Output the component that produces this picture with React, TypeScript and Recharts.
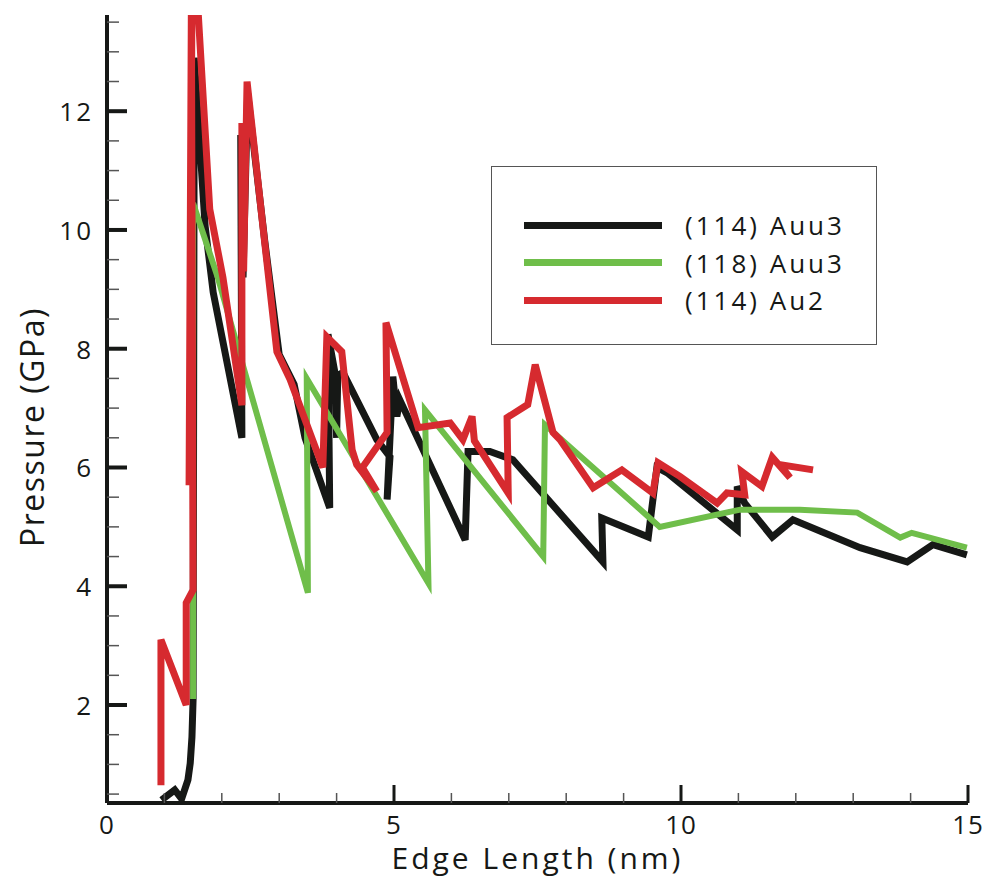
import { LineChart, Line, XAxis, YAxis, Label } from "recharts";

// (114) Auu3
const edgeAuu3_114 = [0.95, 1.18, 1.3, 1.41, 1.45, 1.48, 1.5, 1.52, 1.71, 1.85, 2.35, 2.33, 2.37, 2.45, 2.75, 3.0, 3.26, 3.45, 3.88, 3.85, 3.97, 4.0, 4.02, 4.11, 4.7, 4.93, 4.88, 4.98, 5.05, 5.1, 6.24, 6.29, 6.67, 7.07, 8.64, 8.62, 9.43, 9.58, 9.76, 10.98, 10.98, 11.11, 11.59, 11.95, 13.12, 13.94, 14.39, 14.98];
const pressureAuu3_114 = [0.4, 0.57, 0.42, 0.74, 1.02, 1.46, 2.1, 12.9, 10.06, 8.95, 6.5, 11.6, 9.2, 12.3, 9.8, 7.9, 7.4, 6.5, 5.32, 8.24, 7.6, 6.5, 7.55, 7.6, 6.47, 6.18, 5.46, 7.53, 6.86, 7.14, 4.78, 6.27, 6.27, 6.13, 4.41, 5.15, 4.83, 6.0, 5.91, 4.95, 5.68, 5.4, 4.83, 5.12, 4.65, 4.41, 4.7, 4.53];

// (118) Auu3
const edgeAuu3_118 = [1.5, 1.5, 1.93, 3.5, 3.48, 5.6, 5.54, 7.6, 7.63, 9.63, 11.03, 12.07, 13.07, 13.82, 14.02, 14.98];
const pressureAuu3_118 = [2.1, 10.45, 9.2, 3.89, 7.5, 4.05, 6.97, 4.5, 6.72, 5.0, 5.29, 5.29, 5.24, 4.82, 4.9, 4.65];

// (114) Au2
const edgeAu2_114 = [0.94, 0.94, 1.38, 1.38, 1.5, 1.47, 1.43, 1.48, 1.58, 1.79, 2.02, 2.35, 2.35, 2.38, 2.44, 2.7, 2.96, 3.19, 3.76, 3.83, 4.09, 4.27, 4.35, 4.7, 4.45, 4.88, 4.86, 5.42, 5.98, 6.2, 6.36, 6.4, 6.99, 6.97, 7.33, 7.46, 7.77, 7.89, 8.47, 8.97, 9.51, 9.6, 9.98, 10.63, 10.8, 11.11, 11.06, 11.41, 11.59, 11.9, 11.72, 12.3];
const pressureAu2_114 = [0.65, 3.1, 2.0, 3.72, 3.94, 13.8, 5.7, 13.8, 13.8, 10.35, 9.2, 7.05, 11.8, 9.3, 12.5, 10.2, 7.95, 7.48, 6.0, 8.2, 7.95, 6.3, 6.05, 5.6, 6.0, 6.59, 8.44, 6.67, 6.75, 6.47, 6.86, 6.45, 5.57, 6.84, 7.06, 7.73, 6.59, 6.47, 5.66, 5.96, 5.57, 6.08, 5.85, 5.4, 5.57, 5.54, 5.93, 5.68, 6.17, 5.83, 6.05, 5.96];

const xTicks = [0, 1, 2, 3, 4, 5, 6, 7, 8, 9, 10, 11, 12, 13, 14, 15];
const yTicks = [0.5, 1, 1.5, 2, 2.5, 3, 3.5, 4, 4.5, 5, 5.5, 6, 6.5, 7, 7.5, 8, 8.5, 9, 9.5, 10, 10.5, 11, 11.5, 12, 12.5, 13, 13.5];

const toPoints = (xs: number[], ys: number[]) => xs.map((x, i) => ({ x, y: ys[i] }));

const series = [
  { name: "(114) Auu3", color: "#161816", width: 7, data: toPoints(edgeAuu3_114, pressureAuu3_114) },
  { name: "(118) Auu3", color: "#6fbe4a", width: 6, data: toPoints(edgeAuu3_118, pressureAuu3_118) },
  { name: "(114) Au2", color: "#d62a2f", width: 7, data: toPoints(edgeAu2_114, pressureAu2_114) },
];

const FONT = "'Open Sans', sans-serif";
const INK = "#161816";

// y ticks point inward; labels only on even values
const YTick = (props: any) => {
  const { x, y, payload } = props;
  const v = payload.value;
  const major = v % 2 === 0;
  return (
    <g>
      <line x1={x} x2={x + (major ? 20 : 12)} y1={y} y2={y} stroke={major ? INK : "#555"} strokeWidth={major ? 4 : 1.5} />
      {major && (
        <text x={x - 14} y={y} textAnchor="end" dominantBaseline="central" fontFamily={FONT} fontSize={26} letterSpacing={2} fill={INK}>
          {v}
        </text>
      )}
    </g>
  );
};

const XTick = (props: any) => {
  const { x, y, payload } = props;
  const v = payload.value;
  const major = v % 5 === 0;
  return (
    <g>
      <line x1={x} x2={x} y1={y} y2={y - (major ? 18 : 10)} stroke={major ? INK : "#555"} strokeWidth={major ? 3 : 1.5} />
      {major && (
        <text x={x} y={y + 9} textAnchor="middle" dominantBaseline="hanging" fontFamily={FONT} fontSize={26} letterSpacing={1} fill={INK}>
          {v}
        </text>
      )}
    </g>
  );
};

export default function App() {
  return (
    <div style={{ position: "absolute", left: 0, top: 0, width: 987, height: 878, background: "#fff" }}>
      <LineChart width={987} height={878} margin={{ top: 15, right: 19, bottom: 15, left: 27 }}>
        <XAxis
          type="number"
          dataKey="x"
          domain={[0, 15]}
          ticks={xTicks}
          allowDataOverflow
          height={60}
          tickSize={0}
          tickMargin={0}
          tickLine={false}
          tick={<XTick />}
          axisLine={{ stroke: INK, strokeWidth: 4 }}
        >
          <Label
            content={({ viewBox }: any) => (
              <text
                x={viewBox.x + viewBox.width / 2}
                y={viewBox.y + 66}
                textAnchor="middle"
                fontFamily={FONT}
                fontSize={30}
                letterSpacing={3}
                fill={INK}
              >
                Edge Length (nm)
              </text>
            )}
          />
        </XAxis>
        <YAxis
          type="number"
          dataKey="y"
          domain={[0.35, 13.62]}
          ticks={yTicks}
          allowDataOverflow
          width={80}
          tickSize={0}
          tickMargin={0}
          tickLine={false}
          tick={<YTick />}
          axisLine={{ stroke: INK, strokeWidth: 4 }}
        >
          <Label
            content={({ viewBox }: any) => {
              const cx = 31;
              const cy = viewBox.y + viewBox.height / 2 + 18;
              return (
                <text
                  x={cx}
                  y={cy}
                  textAnchor="middle"
                  dominantBaseline="central"
                  transform={`rotate(-90 ${cx} ${cy})`}
                  fontFamily={FONT}
                  fontSize={32}
                  letterSpacing={1.5}
                  fill={INK}
                >
                  Pressure (GPa)
                </text>
              );
            }}
          />
        </YAxis>
        {series.map((s) => (
          <Line
            key={s.name}
            data={s.data}
            dataKey="y"
            type="linear"
            stroke={s.color}
            strokeWidth={s.width}
            strokeLinejoin="miter"
            strokeLinecap="butt"
            dot={false}
            activeDot={false}
            isAnimationActive={false}
          />
        ))}
      </LineChart>

      <div
        style={{
          position: "absolute",
          left: 491,
          top: 166,
          width: 384,
          height: 177,
          border: "1.5px solid #555",
          background: "#fff",
          fontFamily: FONT,
        }}
      >
        {series.map((s, i) => (
          <div key={s.name} style={{ position: "absolute", left: 32, top: 42 + i * 37.5, height: 32, display: "flex", alignItems: "center" }}>
            <div style={{ width: 138, height: 7, background: s.color }} />
            <span style={{ marginLeft: 23, fontSize: 26, letterSpacing: 3, color: INK, whiteSpace: "nowrap" }}>{s.name}</span>
          </div>
        ))}
      </div>
    </div>
  );
}
